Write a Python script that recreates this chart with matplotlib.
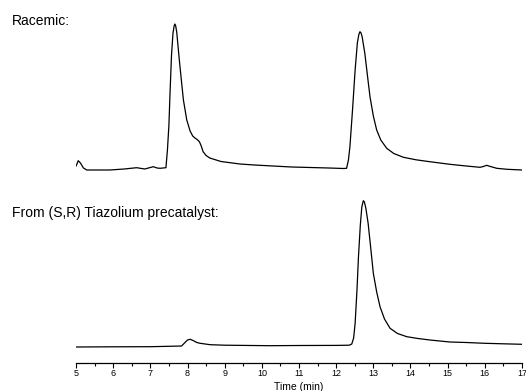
import matplotlib.pyplot as plt
from matplotlib.ticker import MultipleLocator

# HPLC traces: racemic sample (top) and product from (S,R) precatalyst (bottom)
plt.rcParams['font.family'] = ['Liberation Sans', 'DejaVu Sans']

# Racemic trace: time (min) and detector signal (arbitrary units)
racemic_time = [5.00, 5.02, 5.06, 5.12, 5.20, 5.29, 5.60, 5.91, 6.30, 6.63, 6.85, 7.08,
                7.18, 7.26, 7.42, 7.46, 7.50, 7.53, 7.57, 7.61, 7.64, 7.66, 7.68, 7.71,
                7.78, 7.84, 7.89, 7.98, 8.07, 8.14, 8.20, 8.26, 8.32, 8.37, 8.42, 8.50,
                8.60, 8.90, 9.41, 9.80, 10.30, 10.80, 11.30, 11.80, 12.20, 12.28, 12.33,
                12.37, 12.44, 12.51, 12.57, 12.61, 12.64, 12.67, 12.70, 12.77, 12.84,
                12.91, 13.00, 13.09, 13.20, 13.36, 13.55, 13.81, 14.15, 14.52, 15.06,
                15.50, 15.87, 15.96, 16.05, 16.15, 16.32, 16.60, 17.00]
racemic_signal = [5.0, 6.5, 10.3, 8.0, 3.0, 1.0, 1.0, 1.0, 2.0, 3.3, 2.0, 4.3,
                  3.0, 2.7, 3.3, 21.0, 46.0, 78.0, 116.0, 138.0, 145.0, 147.0, 145.5, 139.0,
                  111.0, 89.0, 71.0, 51.0, 40.0, 35.0, 33.0, 31.5, 29.3, 25.0, 19.3, 15.5,
                  13.0, 9.5, 7.0, 6.0, 5.0, 4.0, 3.5, 3.0, 2.5, 2.7, 11.0,
                  24.3, 61.0, 101.0, 128.0, 136.5, 139.3, 138.0, 134.0, 118.0, 96.0,
                  74.3, 55.0, 41.0, 31.0, 22.7, 17.5, 13.7, 11.2, 9.3, 6.7,
                  5.0, 3.7, 4.5, 5.7, 4.5, 2.7, 1.7, 1.0]

# (S,R) Tiazolium precatalyst trace
chiral_time = [5.00, 6.00, 6.99, 7.50, 7.84, 7.92, 8.00, 8.07, 8.15, 8.25, 8.34, 8.61,
               9.00, 10.22, 11.00, 12.00, 12.35, 12.42, 12.47, 12.51, 12.56, 12.60, 12.65,
               12.69, 12.73, 12.76, 12.80, 12.86, 12.93, 13.00, 13.09, 13.18, 13.30, 13.45,
               13.65, 13.90, 14.20, 14.52, 15.06, 15.50, 16.00, 16.50, 17.00]
chiral_signal = [0.5, 0.7, 0.8, 1.2, 1.5, 4.5, 7.5, 8.2, 7.0, 5.0, 4.2, 2.8,
                 2.3, 1.8, 2.0, 2.1, 2.3, 3.5, 9.5, 24.2, 57.5, 90.8, 122.5,
                 140.5, 146.8, 145.5, 139.0, 124.2, 99.5, 74.2, 55.5, 40.8, 28.5, 19.2,
                 14.0, 10.8, 9.0, 7.5, 5.5, 5.0, 4.2, 3.7, 3.2]

labels = ['Racemic:', 'From (S,R) Tiazolium precatalyst:']

fig = plt.figure(figsize=(5.26, 3.91), dpi=100)
W, H = 526, 391
left = 76 / W
width = (522 - 76) / W

ax_top = fig.add_axes([left, 1 - 171 / H, width, 160 / H])
ax_bot = fig.add_axes([left, 1 - 363 / H, width, 175.5 / H], sharex=ax_top)

ax_top.plot(racemic_time, racemic_signal, color='black', lw=0.9)
ax_bot.plot(chiral_time, chiral_signal, color='black', lw=0.9)

ax_top.set_ylim(0, 160)
ax_bot.set_ylim(-15.5, 160)
ax_bot.set_xlim(5, 17)

for ax in (ax_top, ax_bot):
    for s in ax.spines.values():
        s.set_visible(False)
    ax.set_yticks([])
    ax.patch.set_alpha(0)
ax_top.tick_params(axis='x', which='both', bottom=False, labelbottom=False)

ax_bot.spines['bottom'].set_visible(True)
ax_bot.spines['bottom'].set_linewidth(0.9)
ax_bot.xaxis.set_major_locator(MultipleLocator(1))
ax_bot.xaxis.set_minor_locator(MultipleLocator(0.5))
ax_bot.tick_params(axis='x', which='major', direction='out', length=3.5, width=0.8,
                   labelsize=6.5, pad=1)
ax_bot.tick_params(axis='x', which='minor', direction='out', length=2, width=0.8)
ax_bot.set_xlabel('Time (min)', fontsize=7.5, labelpad=3)

fig.text(12 / W, 1 - 21 / H, labels[0], fontsize=10, va='center', ha='left')
fig.text(12 / W, 1 - 213 / H, labels[1], fontsize=10, va='center', ha='left')

fig.savefig('out.png', dpi=100)
